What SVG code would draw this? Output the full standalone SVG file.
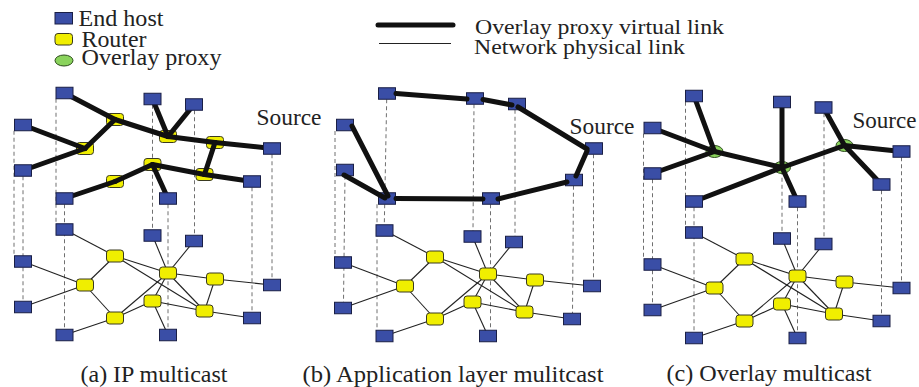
<svg xmlns="http://www.w3.org/2000/svg" width="919" height="387" viewBox="0 0 919 387">
  <style>
    .host { fill: #3a4ea6; stroke: #1a1f45; stroke-width: 1; }
    .router { fill: #f0ee00; stroke: #3a3a20; stroke-width: 1; }
    .proxy { fill: #8ad35c; stroke: #2c4a1c; stroke-width: 1; }
    .virt { stroke: #111; stroke-width: 5; stroke-linecap: round; fill: none; }
    .phys { stroke: #222; stroke-width: 1.1; fill: none; }
    .drop { stroke: #707070; stroke-width: 1; stroke-dasharray: 4 3; fill: none; }
    text { font-family: "Liberation Serif", "DejaVu Serif", "Times New Roman", serif; fill: #222; }
  </style>

  <!-- Legend -->
  <g id="legend">
    <rect class="host" x="55" y="12.5" width="17.5" height="11.5"/>
    <rect class="router" x="55" y="33.5" width="17.5" height="11.5" rx="3"/>
    <ellipse class="proxy" cx="64" cy="60.5" rx="9" ry="5.5"/>
    <text font-family="Liberation Serif, DejaVu Serif, serif" x="78.5" y="25.5" font-size="22.5" textLength="85" lengthAdjust="spacingAndGlyphs">End host</text>
    <text font-family="Liberation Serif, DejaVu Serif, serif" x="81.5" y="46.5" font-size="22.5" textLength="65" lengthAdjust="spacingAndGlyphs">Router</text>
    <text font-family="Liberation Serif, DejaVu Serif, serif" x="81.5" y="65" font-size="22.5" textLength="140" lengthAdjust="spacingAndGlyphs">Overlay proxy</text>
    <line class="virt" x1="378" y1="25" x2="453" y2="25"/>
    <line class="phys" x1="379" y1="43.5" x2="451" y2="43.5"/>
    <text font-family="Liberation Serif, DejaVu Serif, serif" x="475" y="33.5" font-size="22" textLength="249" lengthAdjust="spacingAndGlyphs">Overlay proxy virtual link</text>
    <text font-family="Liberation Serif, DejaVu Serif, serif" x="474" y="54" font-size="22" textLength="211" lengthAdjust="spacingAndGlyphs">Network physical link</text>
  </g>

  <!-- ===== (a) IP multicast ===== -->
  <g id="panel-a">
    <g id="a-connectors">
      <g class="drop-lines">
        <path class="drop" d="M14,130.75V255.75"/>
        <path class="drop" d="M23,176.25V301.25"/>
        <path class="drop" d="M56,98.75V223.75"/>
        <path class="drop" d="M64.5,204.25V329.25"/>
        <path class="drop" d="M152.5,104.75V229.75"/>
        <path class="drop" d="M168,204.25V329.25"/>
        <path class="drop" d="M194.5,110.25V235.25"/>
        <path class="drop" d="M252,187.25V312.25"/>
        <path class="drop" d="M272,154.25V279.25"/>
      </g>
      <g class="physical">
        <line class="phys" x1="64.5" y1="229.5" x2="115" y2="256"/>
        <line class="phys" x1="23" y1="261.5" x2="85" y2="285"/>
        <line class="phys" x1="23" y1="307" x2="85" y2="285"/>
        <line class="phys" x1="85" y1="285" x2="115" y2="256"/>
        <line class="phys" x1="85" y1="285" x2="115" y2="318"/>
        <line class="phys" x1="115" y1="256" x2="168" y2="273"/>
        <line class="phys" x1="115" y1="256" x2="204.5" y2="311"/>
        <line class="phys" x1="115" y1="318" x2="168" y2="273"/>
        <line class="phys" x1="115" y1="318" x2="152.5" y2="301"/>
        <line class="phys" x1="64.5" y1="335" x2="115" y2="318"/>
        <line class="phys" x1="168" y1="273" x2="152.5" y2="235.5"/>
        <line class="phys" x1="168" y1="273" x2="194" y2="241"/>
        <line class="phys" x1="168" y1="273" x2="215" y2="279"/>
        <line class="phys" x1="168" y1="273" x2="152.5" y2="301"/>
        <line class="phys" x1="168" y1="273" x2="204.5" y2="311"/>
        <line class="phys" x1="152.5" y1="301" x2="204.5" y2="311"/>
        <line class="phys" x1="152.5" y1="301" x2="168" y2="335"/>
        <line class="phys" x1="215" y1="279" x2="204.5" y2="311"/>
        <line class="phys" x1="215" y1="279" x2="272" y2="285"/>
        <line class="phys" x1="204.5" y1="311" x2="252" y2="318"/>
      </g>
    </g>
    <!-- physical layer nodes -->
    <g id="a-r1"><rect class="router" x="106.5" y="250" width="17" height="12" rx="3"/></g>
    <g id="a-r2"><rect class="router" x="76.5" y="279" width="17" height="12" rx="3"/></g>
    <g id="a-r3"><rect class="router" x="106.5" y="312" width="17" height="12" rx="3"/></g>
    <g id="a-r4"><rect class="router" x="159.5" y="267" width="17" height="12" rx="3"/></g>
    <g id="a-r5"><rect class="router" x="144" y="295" width="17" height="12" rx="3"/></g>
    <g id="a-r6"><rect class="router" x="206.5" y="273" width="17" height="12" rx="3"/></g>
    <g id="a-r7"><rect class="router" x="196" y="305" width="17" height="12" rx="3"/></g>
    <g id="a-h1"><rect class="host" x="56" y="223.75" width="17" height="11.5"/></g>
    <g id="a-h2"><rect class="host" x="14.5" y="255.75" width="17" height="11.5"/></g>
    <g id="a-h3"><rect class="host" x="14.5" y="301.25" width="17" height="11.5"/></g>
    <g id="a-h4"><rect class="host" x="56" y="329.25" width="17" height="11.5"/></g>
    <g id="a-h5"><rect class="host" x="144" y="229.75" width="17" height="11.5"/></g>
    <g id="a-h6"><rect class="host" x="185.5" y="235.25" width="17" height="11.5"/></g>
    <g id="a-h7"><rect class="host" x="159.5" y="329.25" width="17" height="11.5"/></g>
    <g id="a-h8"><rect class="host" x="263.5" y="279.25" width="17" height="11.5"/></g>
    <g id="a-h9"><rect class="host" x="243.5" y="312.25" width="17" height="11.5"/></g>
    <!-- multicast tree routers -->
    <g id="a-tr1"><rect class="router" x="106.5" y="113.5" width="17" height="12" rx="3"/></g>
    <g id="a-tr2"><rect class="router" x="76.5" y="142.5" width="17" height="12" rx="3"/></g>
    <g id="a-tr3"><rect class="router" x="106.5" y="175.5" width="17" height="12" rx="3"/></g>
    <g id="a-tr4"><rect class="router" x="159.5" y="130.5" width="17" height="12" rx="3"/></g>
    <g id="a-tr5"><rect class="router" x="144" y="158.5" width="17" height="12" rx="3"/></g>
    <g id="a-tr6"><rect class="router" x="206.5" y="136.5" width="17" height="12" rx="3"/></g>
    <g id="a-tr7"><rect class="router" x="196" y="168.5" width="17" height="12" rx="3"/></g>
    <g id="a-tree">
      <line class="virt" x1="64.5" y1="93" x2="115" y2="119.5"/>
      <line class="virt" x1="115" y1="119.5" x2="85" y2="148.5"/>
      <line class="virt" x1="23" y1="125" x2="85" y2="148.5"/>
      <line class="virt" x1="23" y1="170.5" x2="85" y2="148.5"/>
      <line class="virt" x1="115" y1="119.5" x2="168" y2="136.5"/>
      <line class="virt" x1="152.5" y1="99" x2="168" y2="136.5"/>
      <line class="virt" x1="194" y1="104.5" x2="168" y2="136.5"/>
      <line class="virt" x1="168" y1="136.5" x2="215" y2="142.5"/>
      <line class="virt" x1="215" y1="142.5" x2="272" y2="148.5"/>
      <line class="virt" x1="215" y1="142.5" x2="204.5" y2="174.5"/>
      <line class="virt" x1="204.5" y1="174.5" x2="252" y2="181.5"/>
      <line class="virt" x1="204.5" y1="174.5" x2="152.5" y2="164.5"/>
      <line class="virt" x1="152.5" y1="164.5" x2="168" y2="198.5"/>
      <line class="virt" x1="152.5" y1="164.5" x2="115" y2="181.5"/>
      <line class="virt" x1="115" y1="181.5" x2="64.5" y2="198.5"/>
    </g>
    <g id="a-t1"><rect class="host" x="56" y="87.25" width="17" height="11.5"/></g>
    <g id="a-t2"><rect class="host" x="14.5" y="119.25" width="17" height="11.5"/></g>
    <g id="a-t3"><rect class="host" x="14.5" y="164.75" width="17" height="11.5"/></g>
    <g id="a-t4"><rect class="host" x="56" y="192.75" width="17" height="11.5"/></g>
    <g id="a-t5"><rect class="host" x="144" y="93.25" width="17" height="11.5"/></g>
    <g id="a-t6"><rect class="host" x="185.5" y="98.75" width="17" height="11.5"/></g>
    <g id="a-t7"><rect class="host" x="159.5" y="192.75" width="17" height="11.5"/></g>
    <g id="a-t8"><rect class="host" x="263.5" y="142.75" width="17" height="11.5"/></g>
    <g id="a-t9"><rect class="host" x="243.5" y="175.75" width="17" height="11.5"/></g>
    <text font-family="Liberation Serif, DejaVu Serif, serif" x="256.5" y="124.5" font-size="23" textLength="65" lengthAdjust="spacingAndGlyphs">Source</text>
    <text font-family="Liberation Serif, DejaVu Serif, serif" x="80.5" y="381.5" font-size="22.5" textLength="147" lengthAdjust="spacingAndGlyphs">(a) IP multicast</text>
  </g>

  <!-- ===== (b) Application layer multicast ===== -->
  <g id="panel-b">
    <g id="b-connectors">
      <g class="drop-lines">
        <path class="drop" d="M335,131V256.75"/>
        <path class="drop" d="M345,175.75L343.5,302.25"/>
        <path class="drop" d="M386.7,99.25L384.3,224.75"/>
        <path class="drop" d="M377,204.25V330.25"/>
        <path class="drop" d="M474,104.25L473,230.75"/>
        <path class="drop" d="M515,109.75V236.25"/>
        <path class="drop" d="M490.5,204.25V330.25"/>
        <path class="drop" d="M573.5,185.75L572.5,313.25"/>
        <path class="drop" d="M593.5,154.25V280.25"/>
      </g>
      <g class="physical" transform="translate(320,1)">
        <line class="phys" x1="64.5" y1="229.5" x2="115" y2="256"/>
        <line class="phys" x1="23" y1="261.5" x2="85" y2="285"/>
        <line class="phys" x1="23" y1="307" x2="85" y2="285"/>
        <line class="phys" x1="85" y1="285" x2="115" y2="256"/>
        <line class="phys" x1="85" y1="285" x2="115" y2="318"/>
        <line class="phys" x1="115" y1="256" x2="168" y2="273"/>
        <line class="phys" x1="115" y1="256" x2="204.5" y2="311"/>
        <line class="phys" x1="115" y1="318" x2="168" y2="273"/>
        <line class="phys" x1="115" y1="318" x2="152.5" y2="301"/>
        <line class="phys" x1="64.5" y1="335" x2="115" y2="318"/>
        <line class="phys" x1="168" y1="273" x2="152.5" y2="235.5"/>
        <line class="phys" x1="168" y1="273" x2="194" y2="241"/>
        <line class="phys" x1="168" y1="273" x2="215" y2="279"/>
        <line class="phys" x1="168" y1="273" x2="152.5" y2="301"/>
        <line class="phys" x1="168" y1="273" x2="204.5" y2="311"/>
        <line class="phys" x1="152.5" y1="301" x2="204.5" y2="311"/>
        <line class="phys" x1="152.5" y1="301" x2="168" y2="335"/>
        <line class="phys" x1="215" y1="279" x2="204.5" y2="311"/>
        <line class="phys" x1="215" y1="279" x2="272" y2="285"/>
        <line class="phys" x1="204.5" y1="311" x2="252" y2="318"/>
      </g>
    </g>
    <g transform="translate(320,1)">
      <g id="b-r1"><rect class="router" x="106.5" y="250" width="17" height="12" rx="3"/></g>
      <g id="b-r2"><rect class="router" x="76.5" y="279" width="17" height="12" rx="3"/></g>
      <g id="b-r3"><rect class="router" x="106.5" y="312" width="17" height="12" rx="3"/></g>
      <g id="b-r4"><rect class="router" x="159.5" y="267" width="17" height="12" rx="3"/></g>
      <g id="b-r5"><rect class="router" x="144" y="295" width="17" height="12" rx="3"/></g>
      <g id="b-r6"><rect class="router" x="206.5" y="273" width="17" height="12" rx="3"/></g>
      <g id="b-r7"><rect class="router" x="196" y="305" width="17" height="12" rx="3"/></g>
      <g id="b-h1"><rect class="host" x="56" y="223.75" width="17" height="11.5"/></g>
      <g id="b-h2"><rect class="host" x="14.5" y="255.75" width="17" height="11.5"/></g>
      <g id="b-h3"><rect class="host" x="14.5" y="301.25" width="17" height="11.5"/></g>
      <g id="b-h4"><rect class="host" x="56" y="329.25" width="17" height="11.5"/></g>
      <g id="b-h5"><rect class="host" x="144" y="229.75" width="17" height="11.5"/></g>
      <g id="b-h6"><rect class="host" x="185.5" y="235.25" width="17" height="11.5"/></g>
      <g id="b-h7"><rect class="host" x="159.5" y="329.25" width="17" height="11.5"/></g>
      <g id="b-h8"><rect class="host" x="263.5" y="279.25" width="17" height="11.5"/></g>
      <g id="b-h9"><rect class="host" x="243.5" y="312.25" width="17" height="11.5"/></g>
    </g>
    <g id="b-t1"><rect class="host" x="378.5" y="87.75" width="17" height="11.5"/></g>
    <g id="b-t2"><rect class="host" x="466.5" y="92.75" width="17" height="11.5"/></g>
    <g id="b-t3"><rect class="host" x="508.5" y="98.25" width="17" height="11.5"/></g>
    <g id="b-t4"><rect class="host" x="336.5" y="119.25" width="17" height="11.5"/></g>
    <g id="b-t5"><rect class="host" x="336.5" y="164.25" width="17" height="11.5"/></g>
    <g id="b-t6"><rect class="host" x="378.5" y="192.75" width="17" height="11.5"/></g>
    <g id="b-t7"><rect class="host" x="482.5" y="192.75" width="17" height="11.5"/></g>
    <g id="b-t8"><rect class="host" x="565.5" y="174.25" width="17" height="11.5"/></g>
    <g id="b-t9"><rect class="host" x="585.5" y="142.75" width="17" height="11.5"/></g>
    <g id="b-overlay">
      <line class="virt" x1="396" y1="93.5" x2="467" y2="99"/>
      <line class="virt" x1="483" y1="99.5" x2="512" y2="105"/>
      <line class="virt" x1="518" y1="107" x2="587" y2="149"/>
      <line class="virt" x1="587" y1="151" x2="576" y2="176"/>
      <line class="virt" x1="567" y1="182" x2="498" y2="199"/>
      <line class="virt" x1="483" y1="199" x2="396" y2="198.5"/>
      <line class="virt" x1="352" y1="126" x2="388" y2="196"/>
      <line class="virt" x1="344" y1="175" x2="385" y2="198"/>
    </g>
    <text font-family="Liberation Serif, DejaVu Serif, serif" x="569.5" y="133.5" font-size="23" textLength="65" lengthAdjust="spacingAndGlyphs">Source</text>
    <text font-family="Liberation Serif, DejaVu Serif, serif" x="302.5" y="381.5" font-size="22.5" textLength="301" lengthAdjust="spacingAndGlyphs">(b) Application layer mulitcast</text>
  </g>

  <!-- ===== (c) Overlay multicast ===== -->
  <g id="panel-c">
    <g transform="translate(629.5,3)">
      <g id="c-connectors">
        <g class="drop-lines">
          <path class="drop" d="M14,130.75V255.75"/>
          <path class="drop" d="M23,176.25V301.25"/>
          <path class="drop" d="M56,98.75V223.75"/>
          <path class="drop" d="M64.5,204.25V329.25"/>
          <path class="drop" d="M152.5,104.75V229.75"/>
          <path class="drop" d="M168,204.25V329.25"/>
          <path class="drop" d="M194.5,110.25V235.25"/>
          <path class="drop" d="M252,187.25V312.25"/>
          <path class="drop" d="M272,154.25V279.25"/>
        </g>
        <g class="physical">
          <line class="phys" x1="64.5" y1="229.5" x2="115" y2="256"/>
          <line class="phys" x1="23" y1="261.5" x2="85" y2="285"/>
          <line class="phys" x1="23" y1="307" x2="85" y2="285"/>
          <line class="phys" x1="85" y1="285" x2="115" y2="256"/>
          <line class="phys" x1="85" y1="285" x2="115" y2="318"/>
          <line class="phys" x1="115" y1="256" x2="168" y2="273"/>
          <line class="phys" x1="115" y1="256" x2="204.5" y2="311"/>
          <line class="phys" x1="115" y1="318" x2="168" y2="273"/>
          <line class="phys" x1="115" y1="318" x2="152.5" y2="301"/>
          <line class="phys" x1="64.5" y1="335" x2="115" y2="318"/>
          <line class="phys" x1="168" y1="273" x2="152.5" y2="235.5"/>
          <line class="phys" x1="168" y1="273" x2="194" y2="241"/>
          <line class="phys" x1="168" y1="273" x2="215" y2="279"/>
          <line class="phys" x1="168" y1="273" x2="152.5" y2="301"/>
          <line class="phys" x1="168" y1="273" x2="204.5" y2="311"/>
          <line class="phys" x1="152.5" y1="301" x2="204.5" y2="311"/>
          <line class="phys" x1="152.5" y1="301" x2="168" y2="335"/>
          <line class="phys" x1="215" y1="279" x2="204.5" y2="311"/>
          <line class="phys" x1="215" y1="279" x2="272" y2="285"/>
          <line class="phys" x1="204.5" y1="311" x2="252" y2="318"/>
        </g>
      </g>
      <g id="c-r1"><rect class="router" x="106.5" y="250" width="17" height="12" rx="3"/></g>
      <g id="c-r2"><rect class="router" x="76.5" y="279" width="17" height="12" rx="3"/></g>
      <g id="c-r3"><rect class="router" x="106.5" y="312" width="17" height="12" rx="3"/></g>
      <g id="c-r4"><rect class="router" x="159.5" y="267" width="17" height="12" rx="3"/></g>
      <g id="c-r5"><rect class="router" x="144" y="295" width="17" height="12" rx="3"/></g>
      <g id="c-r6"><rect class="router" x="206.5" y="273" width="17" height="12" rx="3"/></g>
      <g id="c-r7"><rect class="router" x="196" y="305" width="17" height="12" rx="3"/></g>
      <g id="c-h1"><rect class="host" x="56" y="223.75" width="17" height="11.5"/></g>
      <g id="c-h2"><rect class="host" x="14.5" y="255.75" width="17" height="11.5"/></g>
      <g id="c-h3"><rect class="host" x="14.5" y="301.25" width="17" height="11.5"/></g>
      <g id="c-h4"><rect class="host" x="56" y="329.25" width="17" height="11.5"/></g>
      <g id="c-h5"><rect class="host" x="144" y="229.75" width="17" height="11.5"/></g>
      <g id="c-h6"><rect class="host" x="185.5" y="235.25" width="17" height="11.5"/></g>
      <g id="c-h7"><rect class="host" x="159.5" y="329.25" width="17" height="11.5"/></g>
      <g id="c-h8"><rect class="host" x="263.5" y="279.25" width="17" height="11.5"/></g>
      <g id="c-h9"><rect class="host" x="243.5" y="312.25" width="17" height="11.5"/></g>
      <!-- overlay proxies -->
      <g id="c-p1"><ellipse class="proxy" cx="85" cy="148.5" rx="8.5" ry="6"/></g>
      <g id="c-p2"><ellipse class="proxy" cx="152.5" cy="164.5" rx="8.5" ry="6"/></g>
      <g id="c-p3"><ellipse class="proxy" cx="215" cy="142.5" rx="8.5" ry="6"/></g>
      <g id="c-overlay">
        <line class="virt" x1="23" y1="125" x2="85" y2="148.5"/>
        <line class="virt" x1="23" y1="170.5" x2="85" y2="148.5"/>
        <line class="virt" x1="64.5" y1="93" x2="85" y2="148.5"/>
        <line class="virt" x1="85" y1="148.5" x2="152.5" y2="164.5"/>
        <line class="virt" x1="152.5" y1="99" x2="152.5" y2="164.5"/>
        <line class="virt" x1="152.5" y1="164.5" x2="168" y2="198.5"/>
        <line class="virt" x1="152.5" y1="164.5" x2="64.5" y2="198.5"/>
        <line class="virt" x1="152.5" y1="164.5" x2="215" y2="142.5"/>
        <line class="virt" x1="194" y1="104.5" x2="215" y2="142.5"/>
        <line class="virt" x1="215" y1="142.5" x2="272" y2="148.5"/>
        <line class="virt" x1="215" y1="142.5" x2="252" y2="181.5"/>
      </g>
      <g id="c-t1"><rect class="host" x="56" y="87.25" width="17" height="11.5"/></g>
      <g id="c-t2"><rect class="host" x="14.5" y="119.25" width="17" height="11.5"/></g>
      <g id="c-t3"><rect class="host" x="14.5" y="164.75" width="17" height="11.5"/></g>
      <g id="c-t4"><rect class="host" x="56" y="192.75" width="17" height="11.5"/></g>
      <g id="c-t5"><rect class="host" x="144" y="93.25" width="17" height="11.5"/></g>
      <g id="c-t6"><rect class="host" x="185.5" y="98.75" width="17" height="11.5"/></g>
      <g id="c-t7"><rect class="host" x="159.5" y="192.75" width="17" height="11.5"/></g>
      <g id="c-t8"><rect class="host" x="263.5" y="142.75" width="17" height="11.5"/></g>
      <g id="c-t9"><rect class="host" x="243.5" y="175.75" width="17" height="11.5"/></g>
    </g>
    <text font-family="Liberation Serif, DejaVu Serif, serif" x="852.5" y="128" font-size="23" textLength="64" lengthAdjust="spacingAndGlyphs">Source</text>
    <text font-family="Liberation Serif, DejaVu Serif, serif" x="666.5" y="380.5" font-size="22.5" textLength="205" lengthAdjust="spacingAndGlyphs">(c) Overlay multicast</text>
  </g>
</svg>
